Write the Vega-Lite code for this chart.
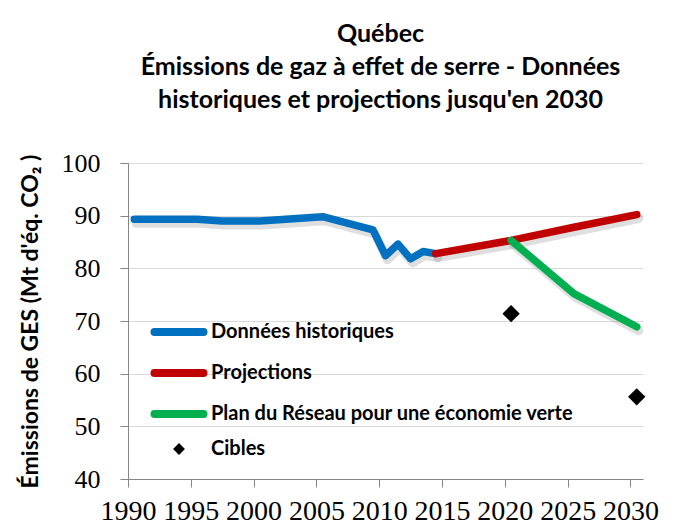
{
  "$schema": "https://vega.github.io/schema/vega-lite/v6.json",
  "autosize": "none",
  "width": 515,
  "height": 316,
  "padding": {"left": 128, "top": 163, "right": 36, "bottom": 50},
  "background": "white",
  "title": {
    "text": ["Québec", "Émissions de gaz à effet de serre - Données", "historiques et projections jusqu'en 2030"],
    "font": "Lato",
    "fontWeight": "bold",
    "fontSize": 25,
    "color": "#000000",
    "lineHeight": 33,
    "anchor": "middle",
    "frame": "group",
    "dx": -5,
    "offset": 37
  },
  "config": {
    "view": {"stroke": null},
    "axis": {"gridColor": "#d9d9d9", "domainColor": "#868686", "tickColor": "#868686"},
    "legend": {
      "orient": "none",
      "legendX": 41,
      "legendY": 159,
      "padding": 0,
      "symbolSize": 267,
      "symbolStrokeWidth": 8,
      "labelFont": "Lato",
      "labelFontWeight": "bold",
      "labelFontSize": 20,
      "labelColor": "#000000",
      "labelLimit": 500,
      "labelOffset": 22,
      "rowPadding": 9
    }
  },
  "data": {
    "values": [
      {"year": 1990, "value": 89.3, "series": "Données historiques"},
      {"year": 1995, "value": 89.3, "series": "Données historiques"},
      {"year": 1997, "value": 89.0, "series": "Données historiques"},
      {"year": 2000, "value": 89.0, "series": "Données historiques"},
      {"year": 2005, "value": 89.8, "series": "Données historiques"},
      {"year": 2009, "value": 87.3, "series": "Données historiques"},
      {"year": 2010, "value": 82.4, "series": "Données historiques"},
      {"year": 2011, "value": 84.6, "series": "Données historiques"},
      {"year": 2012, "value": 81.8, "series": "Données historiques"},
      {"year": 2013, "value": 83.2, "series": "Données historiques"},
      {"year": 2014, "value": 82.8, "series": "Données historiques"},
      {"year": 2014, "value": 82.8, "series": "Projections"},
      {"year": 2020, "value": 85.3, "series": "Projections"},
      {"year": 2025, "value": 87.8, "series": "Projections"},
      {"year": 2030, "value": 90.2, "series": "Projections"},
      {"year": 2020, "value": 85.3, "series": "Plan du Réseau pour une économie verte"},
      {"year": 2025, "value": 75.2, "series": "Plan du Réseau pour une économie verte"},
      {"year": 2030, "value": 68.9, "series": "Plan du Réseau pour une économie verte"},
      {"year": 2020, "value": 71.4, "series": "Cibles"},
      {"year": 2030, "value": 55.6, "series": "Cibles"}
    ]
  },
  "encoding": {
    "x": {
      "field": "year",
      "type": "quantitative",
      "scale": {"domain": [1989.5, 2030.5], "nice": false, "zero": false},
      "axis": {
        "title": null,
        "grid": false,
        "values": [1989.5, 1994.5, 1999.5, 2004.5, 2009.5, 2014.5, 2019.5, 2024.5, 2029.5],
        "labelExpr": "datum.value + 0.5",
        "labelDx": 6,
        "tickSize": 8,
        "labelPadding": 10,
        "labelFont": "Liberation Serif",
        "labelFontSize": 28,
        "labelColor": "#000000",
        "labelFlush": false,
        "labelOverlap": false
      }
    },
    "y": {
      "field": "value",
      "type": "quantitative",
      "scale": {"domain": [40, 100], "nice": false, "zero": false},
      "axis": {
        "title": "Émissions de GES (Mt d'éq. CO₂ )",
        "titleFont": "Lato",
        "titleFontWeight": "bold",
        "titleFontSize": 23,
        "titleColor": "#000000",
        "titlePadding": 19,
        "values": [40, 50, 60, 70, 80, 90, 100],
        "tickSize": 8,
        "labelPadding": 20,
        "labelFont": "Liberation Serif",
        "labelFontSize": 26,
        "labelColor": "#000000",
        "labelFlush": false
      }
    },
    "color": {
      "field": "series",
      "type": "nominal",
      "title": null,
      "scale": {
        "domain": ["Données historiques", "Projections", "Plan du Réseau pour une économie verte", "Cibles"],
        "range": ["#0070C0", "#C00000", "#00B050", "#000000"]
      },
      "legend": {
        "title": null,
        "encode": {
          "symbols": {
            "update": {
              "stroke": {"signal": "datum.value === 'Cibles' ? 'transparent' : scale('color', datum.value)"},
              "fill": {"signal": "datum.value === 'Cibles' ? '#000000' : 'transparent'"},
              "strokeWidth": {"signal": "datum.value === 'Cibles' ? 0 : 8"},
              "size": {"signal": "datum.value === 'Cibles' ? 140 : 267"},
              "strokeCap": {"value": "round"},
              "opacity": {"value": 1}
            }
          }
        }
      }
    }
  },
  "layer": [
    {
      "transform": [{"filter": "datum.series !== 'Cibles'"}],
      "mark": {"type": "line", "color": "#7f7f7f", "opacity": 0.25, "strokeWidth": 9, "strokeCap": "round", "strokeJoin": "round", "xOffset": 2, "yOffset": 4},
      "encoding": {"color": null, "detail": {"field": "series"}}
    },
    {
      "transform": [{"filter": "datum.series !== 'Cibles'"}],
      "mark": {"type": "line", "strokeWidth": 7.5, "strokeCap": "round", "strokeJoin": "round"}
    },
    {
      "transform": [{"filter": "datum.series === 'Cibles'"}],
      "mark": {"type": "point", "filled": true, "size": 300, "opacity": 1},
      "encoding": {
        "shape": {
          "field": "series",
          "type": "nominal",
          "title": null,
          "scale": {
            "domain": ["Données historiques", "Projections", "Plan du Réseau pour une économie verte", "Cibles"],
            "range": ["M-3,0H3", "M-3,0H3", "M-3,0H3", "diamond"]
          },
          "legend": {
            "title": null,
            "encode": {
              "symbols": {
                "update": {
                  "stroke": {"signal": "datum.value === 'Cibles' ? 'transparent' : scale('color', datum.value)"},
                  "fill": {"signal": "datum.value === 'Cibles' ? '#000000' : 'transparent'"},
                  "strokeWidth": {"signal": "datum.value === 'Cibles' ? 0 : 8"},
                  "size": {"signal": "datum.value === 'Cibles' ? 140 : 267"},
                  "strokeCap": {"value": "round"},
                  "opacity": {"value": 1}
                }
              }
            }
          }
        }
      }
    }
  ]
}
